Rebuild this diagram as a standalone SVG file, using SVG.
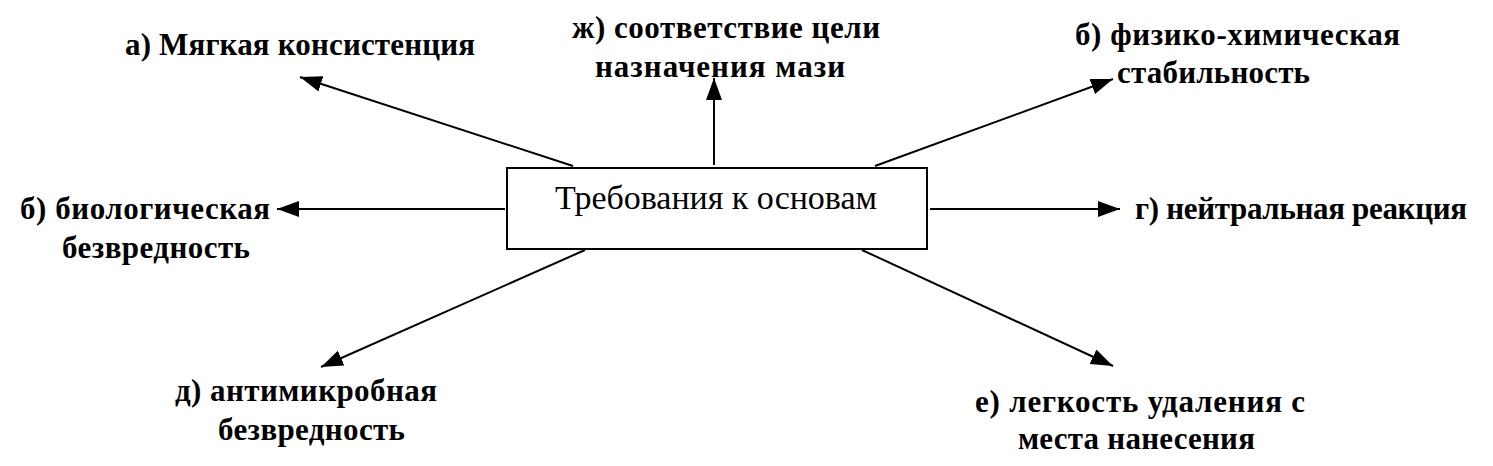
<svg xmlns="http://www.w3.org/2000/svg" width="1493" height="466" viewBox="0 0 1493 466">
<style>
.lbl{font-family:"Liberation Serif","Times New Roman",serif;font-weight:bold;font-size:31px;fill:#000}
.ctr{font-family:"Liberation Serif","Times New Roman",serif;font-size:34px;fill:#000}
.ln{stroke:#000;stroke-width:2;fill:none;marker-end:url(#ah)}
</style>
<defs>
<marker id="ah" markerUnits="userSpaceOnUse" markerWidth="24" markerHeight="18" refX="22" refY="8" orient="auto">
<path d="M0,0 L22,8 L0,16 Z" fill="#000"/>
</marker>
</defs>
<rect width="1493" height="466" fill="#fff"/>
<g id="connectors">
<line class="ln" x1="573" y1="166" x2="300" y2="77"/>
<line class="ln" x1="714" y1="165" x2="714" y2="78"/>
<line class="ln" x1="875" y1="166" x2="1113" y2="79"/>
<line class="ln" x1="505" y1="209" x2="277" y2="209"/>
<line class="ln" x1="930" y1="209" x2="1120" y2="209"/>
<line class="ln" x1="585" y1="250" x2="321" y2="367"/>
<line class="ln" x1="862" y1="250" x2="1113" y2="366"/>
</g>
<g id="center">
<rect x="507" y="168" width="420" height="81" fill="#fff" stroke="#000" stroke-width="2"/>
<text class="ctr" x="555" y="209" textLength="322">Требования к основам</text>
</g>
<g id="node-a"><text class="lbl" x="125" y="55" textLength="350">а) Мягкая консистенция</text></g>
<g id="node-zh">
<text class="lbl" x="572" y="38" textLength="308">ж) соответствие цели</text>
<text class="lbl" x="595" y="77" textLength="250">назначения мази</text>
</g>
<g id="node-b1">
<text class="lbl" x="1075" y="45" textLength="325">б) физико-химическая</text>
<text class="lbl" x="1117" y="83" textLength="193">стабильность</text>
</g>
<g id="node-b2">
<text class="lbl" x="20" y="219" textLength="250">б) биологическая</text>
<text class="lbl" x="62" y="258" textLength="188">безвредность</text>
</g>
<g id="node-g"><text class="lbl" x="1135" y="219" textLength="332">г) нейтральная реакция</text></g>
<g id="node-d">
<text class="lbl" x="175" y="401" textLength="262">д) антимикробная</text>
<text class="lbl" x="218" y="440" textLength="187">безвредность</text>
</g>
<g id="node-e">
<text class="lbl" x="975" y="412" textLength="330">е) легкость удаления с</text>
<text class="lbl" x="1018" y="449" textLength="237">места нанесения</text>
</g>
</svg>
